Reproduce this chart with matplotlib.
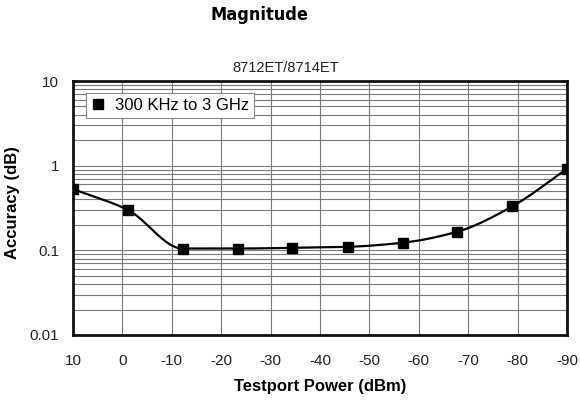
import numpy as np
import matplotlib
matplotlib.use("Agg")
import matplotlib.pyplot as plt
from matplotlib.ticker import LogLocator, FixedLocator, NullFormatter

plt.rcParams['font.family'] = ['Liberation Sans', 'DejaVu Sans']

# accuracy vs. test port power, 300 kHz to 3 GHz
power = [10, -1.1, -12.2, -23.3, -34.4, -45.6, -56.7, -67.8, -78.9, -90]
accuracy = [0.53, 0.30, 0.105, 0.105, 0.107, 0.11, 0.123, 0.166, 0.33, 0.92]
xticks = [10, 0, -10, -20, -30, -40, -50, -60, -70, -80, -90]
yticks = [0.01, 0.1, 1, 10]
ytick_labels = ["0.01", "0.1", "1", "10"]


def smooth(x, y, n=30):
    # monotone cubic (Fritsch-Carlson) through the points, in (x, log y)
    x = np.asarray(x, float)
    ly = np.log10(y)
    h = np.diff(x)
    d = np.diff(ly) / h
    m = np.zeros_like(ly)
    m[0], m[-1] = d[0], d[-1]
    for i in range(1, len(x) - 1):
        if d[i - 1] * d[i] > 0:
            w1 = 2 * h[i] + h[i - 1]
            w2 = h[i] + 2 * h[i - 1]
            m[i] = (w1 + w2) / (w1 / d[i - 1] + w2 / d[i])
    xs, ys = [], []
    t = np.linspace(0, 1, n)
    for i in range(len(x) - 1):
        h00 = 2 * t**3 - 3 * t**2 + 1
        h10 = t**3 - 2 * t**2 + t
        h01 = -2 * t**3 + 3 * t**2
        h11 = t**3 - t**2
        xs.append(x[i] + t * h[i])
        ys.append(h00 * ly[i] + h10 * h[i] * m[i] + h01 * ly[i + 1] + h11 * h[i] * m[i + 1])
    return np.concatenate(xs), 10 ** np.concatenate(ys)


fig = plt.figure(figsize=(5.8, 4.04), dpi=100)
ax = fig.add_axes([0.1259, 0.1708, 0.8517, 0.6287])

sx, sy = smooth(power, accuracy)
ax.plot(sx, sy, color='black', lw=1.6, zorder=3)
ax.plot(power, accuracy, ls='none', marker='s', ms=7.5, color='black',
        zorder=4, label='300 KHz to 3 GHz')

ax.set_yscale('log')
ax.set_ylim(0.01, 10)
ax.set_xlim(10, -90)
ax.xaxis.set_major_locator(FixedLocator(xticks))
ax.set_xticklabels([str(v) for v in xticks])
ax.yaxis.set_major_locator(FixedLocator(yticks))
ax.set_yticklabels(ytick_labels)
ax.yaxis.set_minor_locator(LogLocator(base=10, subs=np.arange(2, 10)))
ax.yaxis.set_minor_formatter(NullFormatter())

ax.grid(True, which='major', color='#7a7a7a', lw=0.8)
ax.grid(True, which='minor', axis='y', color='#7a7a7a', lw=0.8)
ax.tick_params(which='both', length=0)
ax.tick_params(axis='x', pad=14, labelsize=11, colors='#222222')
ax.tick_params(axis='y', pad=10, labelsize=11, colors='#222222')
for s in ax.spines.values():
    s.set_linewidth(2)
    s.set_color('#111111')

ax.set_xlabel('Testport Power (dBm)', fontsize=12, fontweight='bold')
ax.xaxis.set_label_coords(0.5, -0.175)
ax.set_ylabel('Accuracy (dB)', fontsize=12, fontweight='bold')
ax.yaxis.set_label_coords(-0.107, 0.52)

fig.text(0.448, 0.964, 'Magnitude', ha='center', va='center', fontsize=13,
         fontweight='bold', fontstretch='condensed',
         family=['DejaVu Sans', 'Liberation Sans'])
fig.text(0.492, 0.832, '8712ET/8714ET', ha='center', va='center', fontsize=10.5,
         color='#222222')

leg = ax.legend(loc='upper left', bbox_to_anchor=(0.01, 0.985), fontsize=12,
                handlelength=0.8, handletextpad=0.6, borderpad=0.3,
                fancybox=False, framealpha=1, edgecolor='#888888')
leg.get_frame().set_linewidth(0.8)

fig.savefig('out.png', dpi=100)
